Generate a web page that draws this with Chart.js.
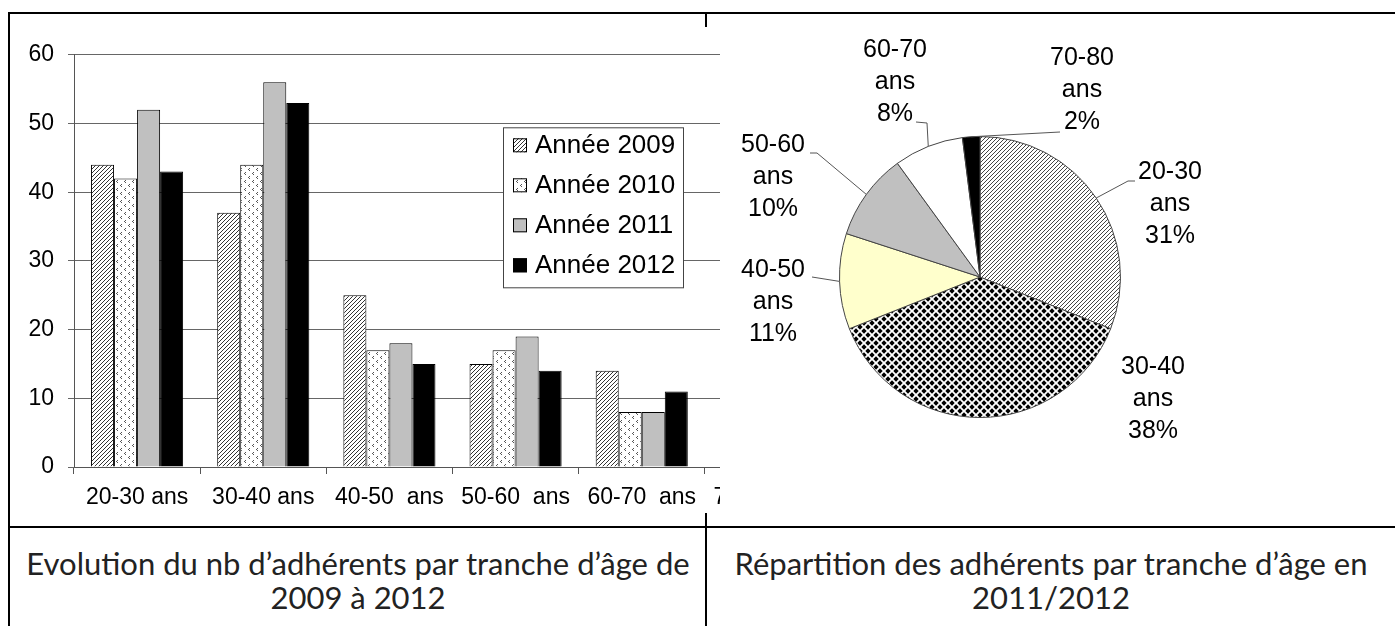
<!DOCTYPE html>
<html>
<head>
<meta charset="utf-8">
<script src="https://cdn.jsdelivr.net/npm/chart.js@4.4.1/dist/chart.umd.min.js"></script>
<style>
    html, body { margin: 0; padding: 0; background: #fff; }
    body { width: 1395px; height: 626px; position: relative; overflow: hidden; }
    .rule { position: absolute; background: #000; }
    #barWrap { position: absolute; left: 10px; top: 27px; width: 710px; height: 486px; overflow: hidden; background: #fff; }
    #barWrap canvas { position: absolute; left: 0; top: 0; }
    #pieWrap { position: absolute; left: 720px; top: 27px; width: 675px; height: 486px; }
    .cap { position: absolute; top: 546px; font-family: Lato, "Open Sans", sans-serif; font-size: 31px;
           line-height: 34px; text-align: center; color: #222; }
</style>
</head>
<body>
    <!-- table rules -->
    <div class="rule" style="left:8px;top:12px;width:1387px;height:2px"></div>
    <div class="rule" style="left:8px;top:12px;width:2px;height:614px"></div>
    <div class="rule" style="left:8px;top:526px;width:1387px;height:2px"></div>
    <div class="rule" style="left:705px;top:12px;width:2px;height:614px"></div>

    <div id="barWrap"><canvas id="barChart" width="834" height="486"></canvas></div>
    <div id="pieWrap"><canvas id="pieChart" width="675" height="486"></canvas></div>

    <div class="cap" style="left:10px;width:696px">Evolution du nb d’adhérents par tranche d’âge de<br>2009 à 2012</div>
    <div class="cap" style="left:707px;width:688px">Répartition des adhérents par tranche d’âge en<br>2011/2012</div>

<script>
// --- Data ---
const ageGroups = ['20-30 ans', '30-40 ans', '40-50  ans', '50-60  ans', '60-70  ans', '70-80  ans'];
const seriesNames = ['Année 2009', 'Année 2010', 'Année 2011', 'Année 2012'];
const year2009 = [44, 37, 25, 15, 14, null];
const year2010 = [42, 44, 17, 17, 8, null];
const year2011 = [52, 56, 18, 19, 8, null];
const year2012 = [43, 53, 15, 14, 11, null];
const yTicks = [0, 10, 20, 30, 40, 50, 60];

const pieGroups = ['20-30 ans', '30-40 ans', '40-50 ans', '50-60 ans', '60-70 ans', '70-80 ans'];
const pieShares = [31, 38, 11, 10, 8, 2];

// label placement for the pie, relative to the pie centre (px)
const pieLabelLayout = [
    { dx: 190, dy: -73, leader: [[148, -96], [155, -96]] },
    { dx: 173, dy: 122, leader: null },
    { dx: -207, dy: 25, leader: [[-168, 0]] },
    { dx: -207, dy: -100, leader: [[-163, -124], [-170, -124]] },
    { dx: -85, dy: -195, leader: [[-53, -154], [-64, -155]] },
    { dx: 102, dy: -187, leader: [[80, -145]] }
];

// --- Fill patterns ---
function tile(w, h, draw) {
    const c = document.createElement('canvas');
    c.width = w; c.height = h;
    const g = c.getContext('2d');
    g.fillStyle = '#fff';
    g.fillRect(0, 0, w, h);
    draw(g);
    return g.createPattern(c, 'repeat');
}

const hatch = (size, color) => tile(size, size, g => {
    g.strokeStyle = color;
    g.lineWidth = 1;
    g.beginPath();
    g.moveTo(0, size); g.lineTo(size, 0);
    g.moveTo(-size, size); g.lineTo(size, -size);
    g.moveTo(0, 2 * size); g.lineTo(2 * size, 0);
    g.stroke();
});

const chevrons = tile(8, 8, g => {
    g.fillStyle = '#555';
    [[2, 1], [6, 5]].forEach(([x, y]) => {
        g.fillRect(x + 1, y, 1, 1);
        g.fillRect(x, y + 1, 1, 1);
        g.fillRect(x + 1, y + 2, 1, 1);
    });
});

const diamonds = tile(8, 8, g => {
    g.fillStyle = '#000';
    [[4, 4], [0, 0], [8, 0], [0, 8], [8, 8]].forEach(([x, y]) => {
        g.beginPath();
        g.moveTo(x, y - 2.7); g.lineTo(x + 2.7, y); g.lineTo(x, y + 2.7); g.lineTo(x - 2.7, y);
        g.closePath();
        g.fill();
    });
});

const barFills = [hatch(4, '#333'), chevrons, '#c0c0c0', '#000'];
const pieFills = [hatch(4, '#444'), diamonds, '#ffffcc', '#c0c0c0', '#fff', '#000'];

// --- Legend drawn inside the plot ---
const legendBox = {
    id: 'legendBox',
    afterDraw(chart) {
        const { ctx, chartArea } = chart;
        const x = chartArea.left + 429, y = chartArea.top + 72.5;
        ctx.save();
        ctx.fillStyle = '#fff';
        ctx.fillRect(x, y, 180, 160);
        ctx.strokeStyle = '#444';
        ctx.lineWidth = 1;
        ctx.strokeRect(x + 0.5, y + 0.5, 180, 160);
        ctx.font = '26px "Liberation Sans", Arial, sans-serif';
        ctx.textBaseline = 'middle';
        chart.data.datasets.forEach((ds, i) => {
            const cy = y + 18 + i * 40;
            ctx.fillStyle = ds.backgroundColor;
            ctx.fillRect(x + 10, cy - 7, 14, 14);
            ctx.strokeStyle = '#000';
            ctx.strokeRect(x + 10.5, cy - 6.5, 13, 13);
            ctx.fillStyle = '#000';
            ctx.fillText(ds.label, x + 32, cy + 1);
        });
        ctx.restore();
    }
};

new Chart(document.getElementById('barChart'), {
    type: 'bar',
    data: {
        labels: ageGroups,
        datasets: [year2009, year2010, year2011, year2012].map((vals, i) => ({
            label: seriesNames[i],
            data: vals,
            backgroundColor: barFills[i],
            borderColor: '#000',
            borderWidth: 1,
            categoryPercentage: 0.73,
            barPercentage: 1.0
        }))
    },
    options: {
        responsive: false,
        animation: false,
        events: [],
        layout: { padding: { top: 15, right: 13, left: 0, bottom: 0 } },
        plugins: { legend: { display: false }, tooltip: { enabled: false } },
        scales: {
            x: {
                grid: { offset: true, drawOnChartArea: false, tickLength: 7, color: '#555' },
                border: { color: '#555' },
                ticks: { color: '#000', padding: 10, maxRotation: 0, autoSkip: false,
                         font: { family: '"Liberation Sans", Arial, sans-serif', size: 23 } },
                afterFit: s => { s.height = 46; }
            },
            y: {
                min: yTicks[0],
                max: yTicks[yTicks.length - 1],
                afterBuildTicks: s => { s.ticks = yTicks.map(v => ({ value: v })); },
                grid: { color: '#666', tickLength: 6 },
                border: { color: '#555' },
                ticks: { color: '#000', padding: 14,
                         font: { family: '"Liberation Sans", Arial, sans-serif', size: 23 } },
                afterFit: s => { s.width = 64; }
            }
        }
    },
    plugins: [legendBox]
});

// --- Pie labels with leader lines ---
const pieLabels = {
    id: 'pieLabels',
    afterDraw(chart) {
        const { ctx } = chart;
        const arcs = chart.getDatasetMeta(0).data;
        ctx.save();
        ctx.font = '25px "Liberation Sans", Arial, sans-serif';
        ctx.textAlign = 'center';
        ctx.textBaseline = 'middle';
        arcs.forEach((arc, i) => {
            const lay = pieLabelLayout[i];
            const cx = arc.x, cy = arc.y;
            if (lay.leader) {
                const mid = (arc.startAngle + arc.endAngle) / 2;
                ctx.strokeStyle = '#555';
                ctx.lineWidth = 1;
                ctx.beginPath();
                ctx.moveTo(cx + Math.cos(mid) * arc.outerRadius, cy + Math.sin(mid) * arc.outerRadius);
                lay.leader.forEach(([px, py]) => ctx.lineTo(cx + px, cy + py));
                ctx.stroke();
            }
            const parts = chart.data.labels[i].split(' ');
            const lines = [parts[0], parts[1], chart.data.datasets[0].data[i] + '%'];
            ctx.fillStyle = '#000';
            lines.forEach((t, k) => ctx.fillText(t, cx + lay.dx, cy + lay.dy + (k - 1) * 32));
        });
        ctx.restore();
    }
};

new Chart(document.getElementById('pieChart'), {
    type: 'pie',
    data: {
        labels: pieGroups,
        datasets: [{
            data: pieShares,
            backgroundColor: pieFills,
            borderColor: '#444',
            borderWidth: 1,
            hoverOffset: 0
        }]
    },
    options: {
        responsive: false,
        animation: false,
        events: [],
        layout: { padding: { left: 119, top: 109, right: 274, bottom: 95 } },
        plugins: { legend: { display: false }, tooltip: { enabled: false } }
    },
    plugins: [pieLabels]
});
</script>
</body>
</html>
